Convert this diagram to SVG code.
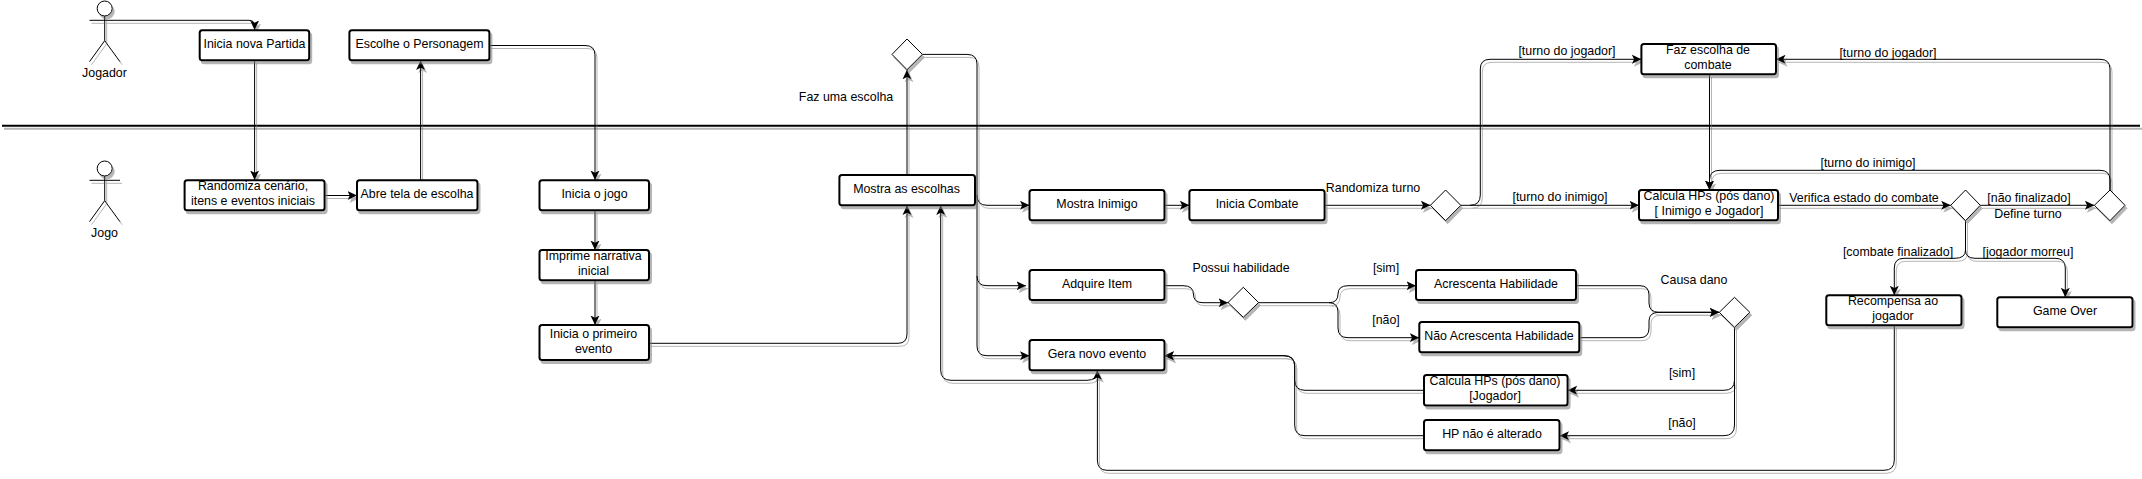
<svg xmlns="http://www.w3.org/2000/svg" width="2142" height="479" viewBox="0 0 2142 479">
<defs>
<filter id="sh" filterUnits="userSpaceOnUse" x="0" y="0" width="2142" height="479"><feDropShadow dx="2" dy="3" stdDeviation="0.3" flood-color="#777" flood-opacity="0.55"/></filter>
<marker id="a" viewBox="0 0 10 10" refX="9.5" refY="5" markerWidth="10" markerHeight="10" markerUnits="userSpaceOnUse" orient="auto"><path d="M0 0.5 L9.5 5 L0 9.5 L2.2 5 Z" fill="#000"/></marker>
</defs>
<style>
text{font-family:"Liberation Sans",Arial,sans-serif;font-size:12.4px;fill:#000;text-anchor:middle}
.b{fill:#fff;stroke:#000;stroke-width:2}
.d{fill:#fff;stroke:#000;stroke-width:1}
.c path{fill:none;stroke:#000;stroke-width:1;marker-end:url(#a)}
.u circle,.u path{fill:#fff;stroke:#000;stroke-width:1}
</style>
<rect width="2142" height="479" fill="#fff"/>
<g id="separator" filter="url(#sh)"><path d="M2 125.7H2140" stroke="#000" stroke-width="2" fill="none"/></g>
<g id="connectors" filter="url(#sh)">
<g class="c">
<path d="M120 20.3H249Q254.6 20.3 254.6 26V30"/>
<path d="M254.6 60.3V180"/>
<path d="M324.6 195.5H357"/>
<path d="M420.6 180.3V60.5"/>
<path d="M489.4 45.5H585Q595 45.5 595 55V180"/>
<path d="M595 210.3V250"/>
<path d="M595 280.3V325"/>
<path d="M649 343.3H898Q907 343.3 907 334V205.5"/>
<path d="M907 175V69.8"/>
<path d="M922.4 54.4H967Q977 54.4 977 64V195Q977 205.3 987 205.3H1029.5"/>
<path d="M977 195V276Q977 285.7 987 285.7H1026"/>
<path d="M977 276V346Q977 355.7 987 355.7H1029.5"/>
<path d="M1164.4 205.3H1189.4"/>
<path d="M1324.6 205.3H1430.4"/>
<path d="M1460.8 205.3H1639"/>
<path d="M1470 205.3Q1480.3 205.3 1480.3 195V69Q1480.3 59.3 1490 59.3H1641.4"/>
<path d="M1709.5 74.3V190"/>
<path d="M1778 205.3H1950.7"/>
<path d="M1980.3 205.3H2094.4"/>
<path d="M2110 190V69Q2110 59.3 2100 59.3H1776"/>
<path d="M2110 190V180Q2110 170.3 2100 170.3H1720Q1709.5 170.3 1709.5 180V190"/>
<path d="M1965.5 220.7V250Q1965.5 258.3 1955 258.3H1904Q1894.3 258.3 1894.3 268V295.3"/>
<path d="M1965.5 250Q1965.5 258.3 1975 258.3H2055Q2065.3 258.3 2065.3 268V297.3"/>
<path d="M1894.3 325.3V460Q1894.3 470.3 1884 470.3H1107Q1097.4 470.3 1097.4 460V370.3"/>
<path d="M1097.4 370.3Q1097.4 380.3 1087 380.3H951Q940.7 380.3 940.7 370V205.5"/>
<path d="M1164.4 285.7H1183Q1193.4 285.7 1193.4 294Q1193.4 302.7 1203 302.7H1228"/>
<path d="M1258.6 302.7H1329Q1338 302.7 1338 294Q1338 285.7 1348 285.7H1416"/>
<path d="M1329 302.7Q1338 302.7 1338 312V328Q1338 337.7 1348 337.7H1419.3"/>
<path d="M1576 285.7H1640Q1649 285.7 1649 295V303Q1649 312.3 1659 312.3H1719.3"/>
<path d="M1579.2 337.7H1640Q1649 337.7 1649 328V321Q1649 312.3 1659 312.3H1719.3"/>
<path d="M1734.5 327.3V380Q1734.5 390.3 1724 390.3H1567.6"/>
<path d="M1734.5 380V425Q1734.5 435.7 1724 435.7H1559.5"/>
<path d="M1424 390.3H1305Q1294.7 390.3 1294.7 380V366Q1294.7 355.7 1284 355.7H1164.4"/>
<path d="M1424 435.7H1305Q1294.7 435.7 1294.7 425V366Q1294.7 355.7 1284 355.7H1164.4"/>
</g>
</g>
<g class="u" filter="url(#sh)">
<g id="actor-jogador"><circle cx="104.7" cy="8.5" r="7.5"/><path d="M104.7 16V40.7M89.5 20.3H120M104.7 40.7L89.5 61.7M104.7 40.7L120 61.7"/></g>
<g id="actor-jogo"><circle cx="104.7" cy="168.5" r="7.5"/><path d="M104.7 176V200.7M89.5 180.3H120M104.7 200.7L89.5 221.7M104.7 200.7L120 221.7"/></g>
</g>
<text x="104.5" y="77">Jogador</text>
<text x="104.5" y="237">Jogo</text>
<g filter="url(#sh)">
<g id="n1"><rect class="b" x="199.7" y="30.3" width="109.5" height="30" rx="2.5"/></g>
<g id="n2"><rect class="b" x="349.4" y="30.3" width="140" height="30" rx="2.5"/></g>
<g id="n3"><rect class="b" x="184.6" y="180.3" width="140" height="30" rx="2.5"/></g>
<g id="n4"><rect class="b" x="357" y="180.3" width="120.5" height="30" rx="2.5"/></g>
<g id="n5"><rect class="b" x="539.5" y="180.3" width="109.5" height="30" rx="2.5"/></g>
<g id="n6"><rect class="b" x="539.5" y="250" width="109.5" height="30.3" rx="2.5"/></g>
<g id="n7"><rect class="b" x="539.5" y="325" width="109.5" height="35" rx="2.5"/></g>
<g id="n8"><rect class="b" x="839.4" y="175" width="135.6" height="30.3" rx="2.5"/></g>
<g id="n9"><rect class="b" x="1029.5" y="190" width="135" height="30.3" rx="2.5"/></g>
<g id="n10"><rect class="b" x="1189.4" y="190" width="135.2" height="30.3" rx="2.5"/></g>
<g id="n11"><rect class="b" x="1029.5" y="270" width="135" height="30" rx="2.5"/></g>
<g id="n12"><rect class="b" x="1029.5" y="340" width="135" height="30.3" rx="2.5"/></g>
<g id="n13"><rect class="b" x="1416" y="270" width="160" height="30" rx="2.5"/></g>
<g id="n14"><rect class="b" x="1419.3" y="322" width="160" height="30.3" rx="2.5"/></g>
<g id="n15"><rect class="b" x="1424" y="375" width="143.6" height="30.5" rx="2.5"/></g>
<g id="n16"><rect class="b" x="1424" y="420" width="135.5" height="30.3" rx="2.5"/></g>
<g id="n17"><rect class="b" x="1641.4" y="44" width="134.6" height="30.3" rx="2.5"/></g>
<g id="n18"><rect class="b" x="1639" y="190" width="139" height="30.3" rx="2.5"/></g>
<g id="n19"><rect class="b" x="1826.3" y="295.3" width="135.2" height="30" rx="2.5"/></g>
<g id="n20"><rect class="b" x="1997.3" y="297.3" width="135.2" height="30" rx="2.5"/></g>
<g id="d1"><path class="d" d="M907 39L922.4 54.4L907 69.7L892 54.4Z"/></g>
<g id="d2"><path class="d" d="M1445.6 190L1460.8 205.3L1445.6 220.7L1430.4 205.3Z"/></g>
<g id="d3"><path class="d" d="M1243.3 287.3L1258.6 302.5L1243.3 317.3L1228 302.5Z"/></g>
<g id="d4"><path class="d" d="M1734.5 297.3L1749.8 312.3L1734.5 327.3L1719.3 312.3Z"/></g>
<g id="d5"><path class="d" d="M1965.5 190L1980.3 205.3L1965.5 220.7L1950.7 205.3Z"/></g>
<g id="d6"><path class="d" d="M2110 190L2125 205.3L2110 220.7L2094.4 205.3Z"/></g>
</g>
<text x="254.5" y="48">Inicia nova Partida</text>
<text x="419.5" y="48">Escolhe o Personagem</text>
<text x="253" y="190">Randomiza cenário,</text>
<text x="253" y="205">itens e eventos iniciais</text>
<text x="417" y="198">Abre tela de escolha</text>
<text x="594.5" y="198">Inicia o jogo</text>
<text x="593.5" y="260">Imprime narrativa</text>
<text x="593.5" y="275">inicial</text>
<text x="593.5" y="338">Inicia o primeiro</text>
<text x="593.5" y="353">evento</text>
<text x="906.5" y="193">Mostra as escolhas</text>
<text x="1097" y="208">Mostra Inimigo</text>
<text x="1257" y="208">Inicia Combate</text>
<text x="1097" y="288">Adquire Item</text>
<text x="1097" y="358">Gera novo evento</text>
<text x="1496" y="288">Acrescenta Habilidade</text>
<text x="1499" y="340">Não Acrescenta Habilidade</text>
<text x="1495" y="385">Calcula HPs (pós dano)</text>
<text x="1495" y="400">[Jogador]</text>
<text x="1492" y="438">HP não é alterado</text>
<text x="1708" y="54">Faz escolha de</text>
<text x="1708" y="69">combate</text>
<text x="1709" y="200">Calcula HPs (pós dano)</text>
<text x="1709" y="215">[ Inimigo e Jogador]</text>
<text x="1893" y="305">Recompensa ao</text>
<text x="1893" y="320">jogador</text>
<text x="2065" y="315">Game Over</text>
<text x="846" y="101">Faz uma escolha</text>
<text x="1373" y="192">Randomiza turno</text>
<text x="1241" y="272">Possui habilidade</text>
<text x="1386" y="272">[sim]</text>
<text x="1386" y="324">[não]</text>
<text x="1694" y="284">Causa dano</text>
<text x="1682" y="377">[sim]</text>
<text x="1682" y="427">[não]</text>
<text x="1567" y="55">[turno do jogador]</text>
<text x="1888" y="57">[turno do jogador]</text>
<text x="1868" y="167">[turno do inimigo]</text>
<text x="1560" y="201">[turno do inimigo]</text>
<text x="1864" y="202">Verifica estado do combate</text>
<text x="2029" y="202">[não finalizado]</text>
<text x="2028" y="218">Define turno</text>
<text x="1898" y="256">[combate finalizado]</text>
<text x="2028" y="256">[jogador morreu]</text>
</svg>
